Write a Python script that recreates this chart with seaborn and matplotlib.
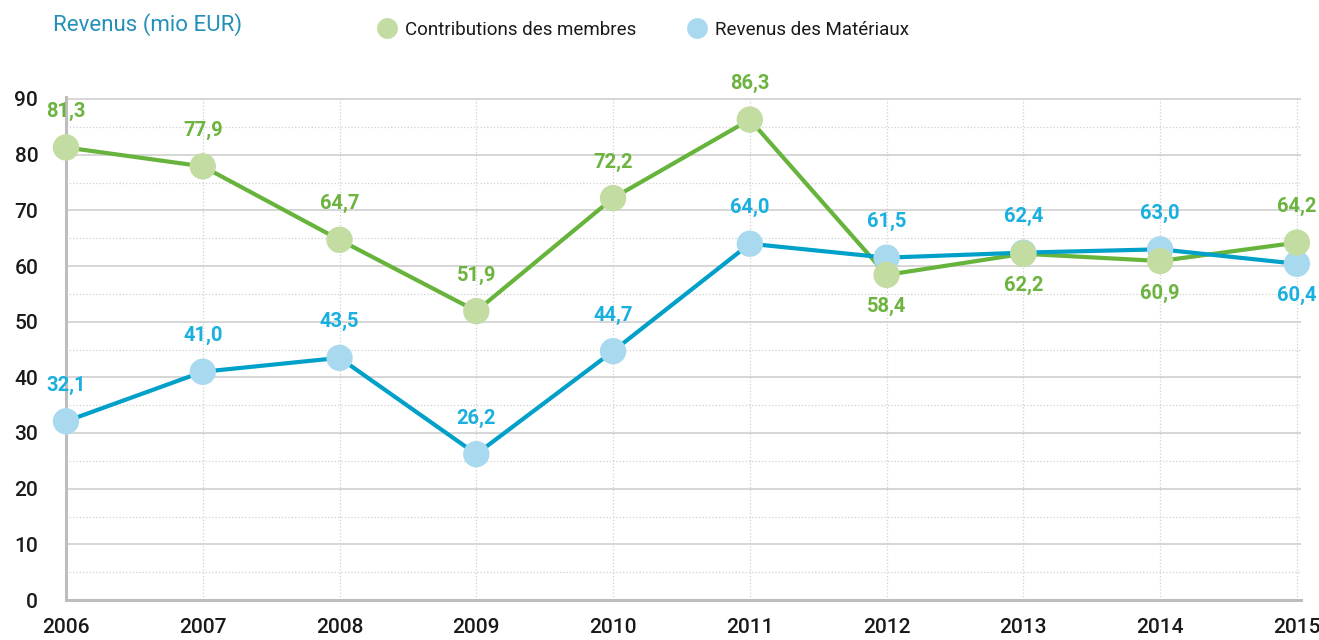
import pandas as pd
import matplotlib
matplotlib.use("Agg")
import matplotlib.pyplot as plt
from matplotlib.lines import Line2D
from matplotlib.ticker import MultipleLocator
import seaborn as sns

# Data
years = [2006, 2007, 2008, 2009, 2010, 2011, 2012, 2013, 2014, 2015]
contributions = [81.3, 77.9, 64.7, 51.9, 72.2, 86.3, 58.4, 62.2, 60.9, 64.2]
materiaux = [32.1, 41.0, 43.5, 26.2, 44.7, 64.0, 61.5, 62.4, 63.0, 60.4]
series_names = ["Contributions des membres", "Revenus des Matériaux"]
title_text = "Revenus (mio EUR)"

# Colors
line_colors = {series_names[0]: "#67b43c", series_names[1]: "#00a0c8"}
marker_colors = {series_names[0]: "#c2dca2", series_names[1]: "#a9d9ef"}
label_colors = {series_names[0]: "#6cb33f", series_names[1]: "#19b0df"}

sns.set_style("white")
plt.rcParams["font.family"] = ["Roboto", "DejaVu Sans"]

df = pd.DataFrame(
    {
        "year": years * 2,
        "value": contributions + materiaux,
        "series": [series_names[0]] * len(years) + [series_names[1]] * len(years),
    }
)

fig = plt.figure(figsize=(13.19, 6.4), dpi=100)
ax = fig.add_axes([66 / 1319, 40 / 640, (1301 - 66) / 1319, (600 - 99) / 640 * 90.3 / 90])

# Lines first, then markers (blue under green)
sns.lineplot(
    data=df, x="year", y="value", hue="series", palette=line_colors,
    linewidth=3, legend=False, ax=ax, zorder=3,
)
for name in [series_names[1], series_names[0]]:
    sub = df[df["series"] == name]
    sns.scatterplot(
        data=sub, x="year", y="value", color=marker_colors[name],
        s=360, edgecolor="none", legend=False, ax=ax, zorder=4, clip_on=False,
    )

# Value labels
values = {series_names[0]: contributions, series_names[1]: materiaux}
for i, yr in enumerate(years):
    for name, other in [(series_names[0], series_names[1]), (series_names[1], series_names[0])]:
        v = values[name][i]
        o = values[other][i]
        below = v < o and (o - v) < 8
        ax.annotate(
            f"{v:.1f}".replace(".", ","),
            xy=(yr, v),
            xytext=(0, -32 if below else 36),
            textcoords="offset pixels",
            ha="center", va="center",
            fontsize=14.5, fontweight="bold",
            color=label_colors[name], zorder=5,
        )

# Axes styling
ax.set_xlim(2006, 2015.03)
ax.set_ylim(0, 90.3)
ax.set_xticks(years)
ax.yaxis.set_major_locator(MultipleLocator(10))
ax.yaxis.set_minor_locator(MultipleLocator(5))
ax.set_xlabel("")
ax.set_ylabel("")

ax.grid(axis="y", which="major", color="#cfcfcf", linewidth=1.2, linestyle="-", zorder=0)
ax.grid(axis="y", which="minor", color="#d0d0d0", linewidth=0.9, linestyle=":", zorder=0)
ax.grid(axis="x", which="major", color="#d0d0d0", linewidth=0.9, linestyle=":", zorder=0)
ax.set_axisbelow(True)

for side in ["top", "right"]:
    ax.spines[side].set_visible(False)
for side in ["left", "bottom"]:
    ax.spines[side].set_color("#bdbdbd")
    ax.spines[side].set_linewidth(2.2)

ax.tick_params(axis="y", which="major", direction="out", length=6, width=1.5,
               color="#bdbdbd", pad=14, labelsize=15, labelcolor="#1a1a1a")
ax.tick_params(axis="y", which="minor", length=0)
ax.tick_params(axis="x", which="major", direction="out", length=6, width=2,
               color="#bdbdbd", pad=7, labelsize=15, labelcolor="#1a1a1a")
for lab in ax.get_xticklabels() + ax.get_yticklabels():
    lab.set_fontweight("medium")

# Title
fig.text(53 / 1319, 1 - 25 / 640, title_text, fontsize=16, color="#2490ba",
         ha="left", va="center")

# Legend
handles = [
    Line2D([], [], marker="o", linestyle="none", markersize=15,
           markerfacecolor=marker_colors[n], markeredgecolor="none", label=n)
    for n in series_names
]
leg = fig.legend(
    handles=handles, loc="center left", bbox_to_anchor=(361 / 1319, 1 - 30 / 640),
    ncol=2, frameon=False, handlelength=1.0, handletextpad=0.45,
    columnspacing=2.75, prop={"size": 13.5},
)
for t in leg.get_texts():
    t.set_color("#1a1a1a")

fig.savefig("out.png", dpi=100)
